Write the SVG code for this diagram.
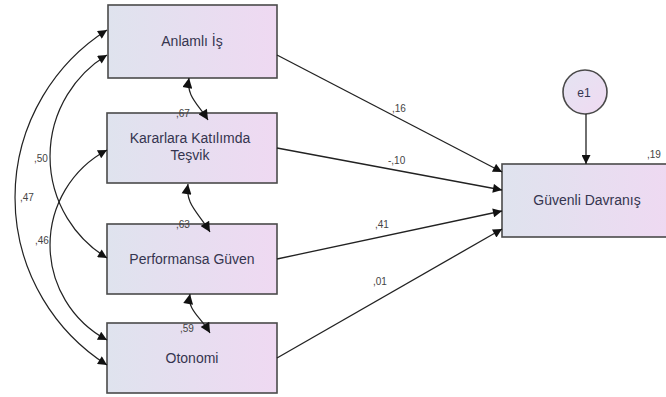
<svg xmlns="http://www.w3.org/2000/svg" width="666" height="397" viewBox="0 0 666 397">
  <defs>
    <linearGradient id="boxFill" x1="0" y1="0" x2="1" y2="0">
      <stop offset="0" stop-color="#dfe3ee"/>
      <stop offset="1" stop-color="#efd9f2"/>
    </linearGradient>
    <linearGradient id="errFill" x1="0" y1="0" x2="1" y2="1">
      <stop offset="0" stop-color="#e4e4f2"/>
      <stop offset="1" stop-color="#f0daf2"/>
    </linearGradient>
    <marker id="head" viewBox="0 0 10 10" refX="10" refY="5" markerWidth="12" markerHeight="9" markerUnits="userSpaceOnUse" orient="auto-start-reverse">
      <path d="M0,0 L10,5 L0,10 z" fill="#111"/>
    </marker>
    <marker id="headSmall" viewBox="0 0 10 10" refX="10" refY="5" markerWidth="13" markerHeight="10" markerUnits="userSpaceOnUse" orient="auto-start-reverse">
      <path d="M0,0 L10,5 L0,10 z" fill="#111"/>
    </marker>
  </defs>
  <style>
    .box { fill: url(#boxFill); stroke: #4a4a4a; stroke-width: 1.6; }
    .lbl { font-family: "Liberation Sans", Arial, sans-serif; font-size: 14px; fill: #35354f; text-anchor: middle; }
    .num { font-family: "Liberation Sans", Arial, sans-serif; font-size: 10px; fill: #444; }
    .path { fill: none; stroke: #222; stroke-width: 1.3; marker-end: url(#head); }
    .cov { fill: none; stroke: #222; stroke-width: 1.2; marker-start: url(#head); marker-end: url(#head); }
    .covs { fill: none; stroke: #222; stroke-width: 1.2; marker-start: url(#headSmall); marker-end: url(#headSmall); }
  </style>

  <rect width="666" height="397" fill="#ffffff"/>

  <g id="anlamli-is">
    <rect class="box" x="108" y="5" width="169" height="73"/>
    <text class="lbl" x="192" y="46">Anlamlı İş</text>
  </g>

  <g id="kararlara-katilimda-tesvik">
    <rect class="box" x="107" y="113" width="170" height="70"/>
    <text class="lbl" x="190" y="143">Kararlara Katılımda</text>
    <text class="lbl" x="190" y="160">Teşvik</text>
  </g>

  <g id="performansa-guven">
    <rect class="box" x="107" y="224" width="170" height="70"/>
    <text class="lbl" x="192" y="264">Performansa Güven</text>
  </g>

  <g id="otonomi">
    <rect class="box" x="107" y="323" width="170" height="70"/>
    <text class="lbl" x="192" y="363">Otonomi</text>
  </g>

  <g id="guvenli-davranis">
    <rect class="box" x="502" y="164" width="172" height="73"/>
    <text class="lbl" x="587" y="205">Güvenli Davranış</text>
    <text class="num" x="647" y="158">,19</text>
  </g>

  <g id="e1">
    <circle cx="585" cy="92" r="22" fill="url(#errFill)" stroke="#4a4a4a" stroke-width="1.6"/>
    <text class="lbl" x="584" y="97" style="font-size:12px">e1</text>
  </g>

  <!-- connectors: regression paths, covariances, error term -->
  <g id="connectors">
    <line class="path" x1="277" y1="55" x2="502" y2="172"/>
    <line class="path" x1="277" y1="148" x2="502" y2="190"/>
    <line class="path" x1="277" y1="259" x2="502" y2="211"/>
    <line class="path" x1="277" y1="358" x2="502" y2="229"/>
    <line class="path" x1="586" y1="114" x2="586" y2="164"/>

    <!-- long covariance arcs on the left -->
    <path class="cov" d="M107,30 A198.5,198.5 0 0 0 107,365"/>
    <path class="cov" d="M107,55 A118.9,118.9 0 0 0 107,258"/>
    <path class="cov" d="M107,150 A107.7,107.7 0 0 0 107,340"/>

    <!-- short covariances between neighbouring boxes -->
    <path class="covs" d="M189,78 C186,96 198,104 208,120"/>
    <path class="covs" d="M188,184 C185,204 198,212 210,232"/>
    <path class="covs" d="M190,294 C187,310 200,316 210,333"/>

    <text class="num" x="392" y="112">,16</text>
    <text class="num" x="388" y="164">-,10</text>
    <text class="num" x="375" y="228">,41</text>
    <text class="num" x="373" y="285">,01</text>
    <text class="num" x="34" y="162">,50</text>
    <text class="num" x="20" y="201">,47</text>
    <text class="num" x="35" y="244">,46</text>
    <text class="num" x="176" y="117">,67</text>
    <text class="num" x="176" y="228">,63</text>
    <text class="num" x="180" y="332">,59</text>
  </g>
</svg>
